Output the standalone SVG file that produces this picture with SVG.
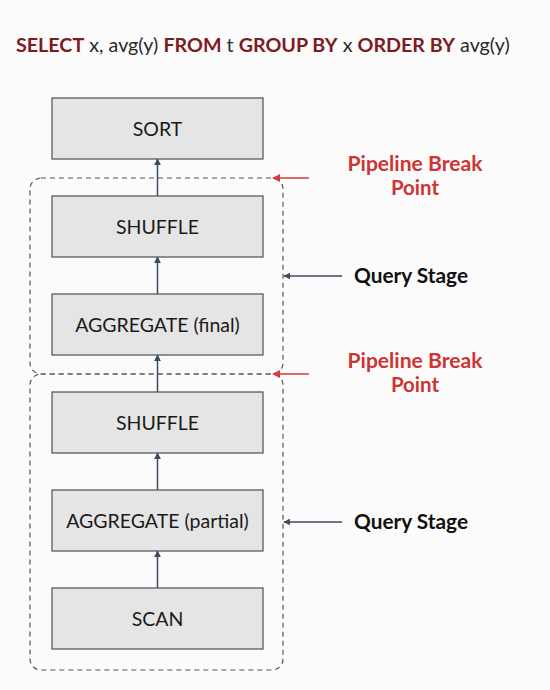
<svg xmlns="http://www.w3.org/2000/svg" width="550" height="690" viewBox="0 0 550 690">
<defs>
<style>
.node rect{fill:#e5e5e5;stroke:#4a4f57;stroke-width:1.2}
.node text{font-family:Lato,"Open Sans","Liberation Sans",sans-serif;font-size:19.5px;fill:#1a1a1a;text-anchor:middle;dominant-baseline:central}
.stage{fill:none;stroke:#4d5666;stroke-width:1.2;stroke-dasharray:5 4}
.conn{stroke:#3e4a5e;stroke-width:1.5;fill:none}
.brk{stroke:#d63a3a;stroke-width:1.5;fill:none}
.red{font-family:Lato,"Open Sans","Liberation Sans",sans-serif;font-weight:bold;font-size:20.5px;fill:#cf3434;text-anchor:middle}
.qs{font-family:Lato,"Open Sans","Liberation Sans",sans-serif;font-weight:bold;font-size:20.5px;fill:#111}
.title{font-family:Lato,"Open Sans","Liberation Sans",sans-serif;font-size:19.7px;fill:#2a2a2a}
.kw{font-weight:bold;fill:#7c1c22}
</style>
<marker id="ah" viewBox="0 0 10 10" refX="9" refY="5" markerWidth="7" markerHeight="7" orient="auto-start-reverse" markerUnits="userSpaceOnUse"><path d="M0,0 L10,5 L0,10 z" fill="#3e4a5e"/></marker>
<marker id="ahr" viewBox="0 0 10 10" refX="9" refY="5" markerWidth="8" markerHeight="8" orient="auto-start-reverse" markerUnits="userSpaceOnUse"><path d="M0,0 L10,5 L0,10 z" fill="#d63a3a"/></marker>
</defs>
<rect width="550" height="690" fill="#fbfbfb"/>
<text class="title" x="16" y="52"><tspan class="kw">SELECT</tspan> x, avg(y) <tspan class="kw">FROM</tspan> t <tspan class="kw">GROUP BY</tspan> x <tspan class="kw">ORDER BY</tspan> avg(y)</text>

<g id="stages">
<rect class="stage" x="30" y="178" width="253" height="196" rx="11"/>
<rect class="stage" x="30" y="374" width="253" height="296" rx="11"/>
</g>

<g id="connectors">
<line class="conn" x1="157.5" y1="196" x2="157.5" y2="159" marker-end="url(#ah)"/>
<line class="conn" x1="157.5" y1="294" x2="157.5" y2="257" marker-end="url(#ah)"/>
<line class="conn" x1="157.5" y1="392" x2="157.5" y2="355" marker-end="url(#ah)"/>
<line class="conn" x1="157.5" y1="490" x2="157.5" y2="453" marker-end="url(#ah)"/>
<line class="conn" x1="157.5" y1="588" x2="157.5" y2="551" marker-end="url(#ah)"/>
<line class="brk" x1="309" y1="178" x2="273" y2="178" marker-end="url(#ahr)"/>
<line class="brk" x1="309" y1="374" x2="273" y2="374" marker-end="url(#ahr)"/>
<line class="conn" x1="342" y1="276" x2="284" y2="276" marker-end="url(#ah)"/>
<line class="conn" x1="342" y1="522" x2="284" y2="522" marker-end="url(#ah)"/>
</g>

<g id="sort" class="node"><rect x="52" y="98" width="211" height="61"/><text x="157.5" y="128.5">SORT</text></g>
<g id="shuffle1" class="node"><rect x="52" y="196" width="211" height="61"/><text x="157.5" y="226.5">SHUFFLE</text></g>
<g id="agg-final" class="node"><rect x="52" y="294" width="211" height="61"/><text x="157.5" y="324.5">AGGREGATE (final)</text></g>
<g id="shuffle2" class="node"><rect x="52" y="392" width="211" height="61"/><text x="157.5" y="422.5">SHUFFLE</text></g>
<g id="agg-partial" class="node"><rect x="52" y="490" width="211" height="61"/><text x="157.5" y="520.5">AGGREGATE (partial)</text></g>
<g id="scan" class="node"><rect x="52" y="588" width="211" height="61"/><text x="157.5" y="618.5">SCAN</text></g>

<g id="labels">
<text class="red" x="415" y="171" textLength="135" lengthAdjust="spacingAndGlyphs">Pipeline Break</text>
<text class="red" x="415" y="195">Point</text>
<text class="red" x="415" y="368" textLength="135" lengthAdjust="spacingAndGlyphs">Pipeline Break</text>
<text class="red" x="415" y="392">Point</text>
<text class="qs" x="354" y="283" textLength="114" lengthAdjust="spacingAndGlyphs">Query Stage</text>
<text class="qs" x="354" y="529" textLength="114" lengthAdjust="spacingAndGlyphs">Query Stage</text>
</g>
</svg>
